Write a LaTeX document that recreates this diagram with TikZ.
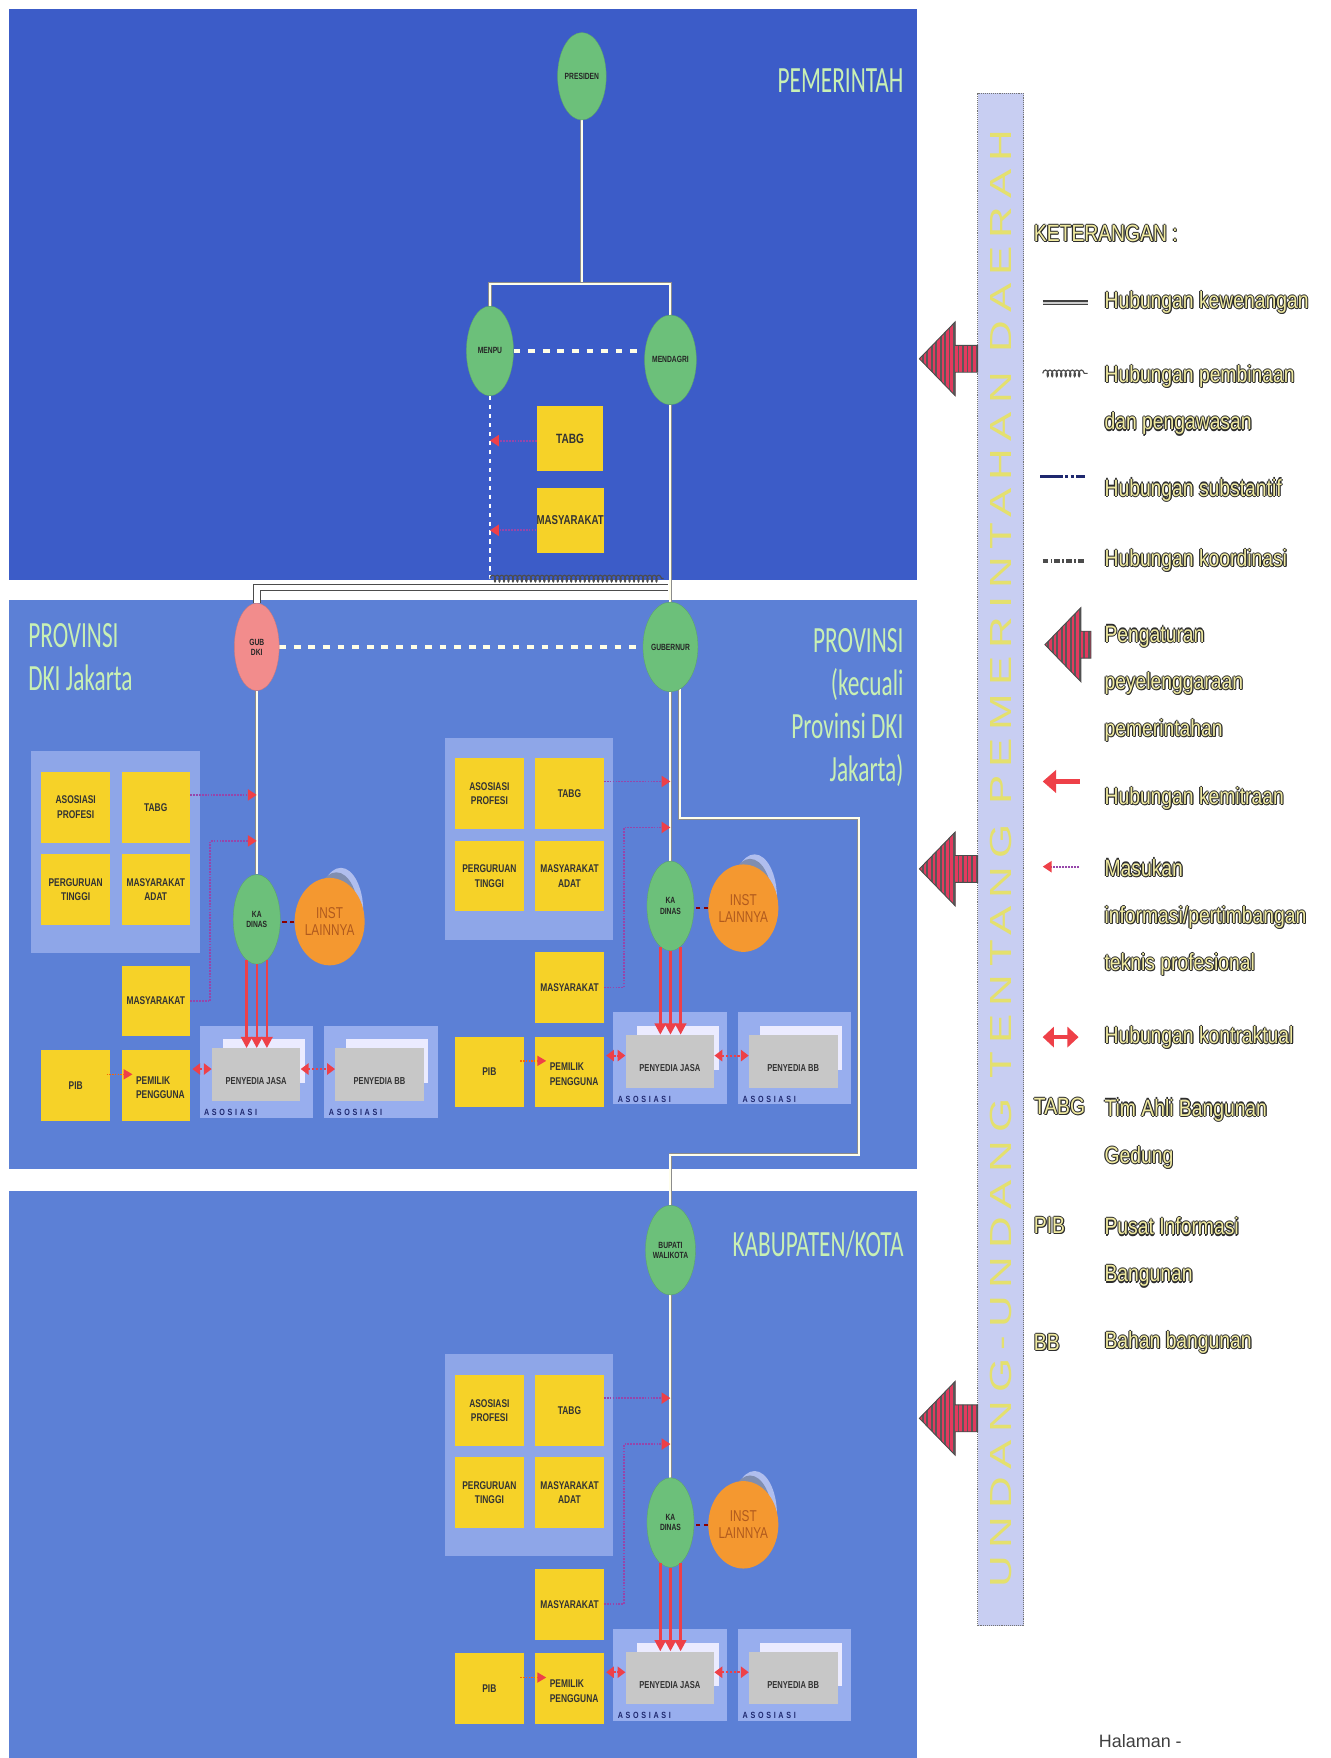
\documentclass[tikz,border=0pt]{standalone}
\usepackage{fontspec}
\usepackage{graphicx}
\setmainfont{Liberation Sans}
\newfontfamily\narrowfont{Liberation Sans}[FakeStretch=0.75]
\newfontfamily\legendfont{Liberation Sans}[FakeStretch=0.82]
\newfontfamily\titlefont{Carlito}[FakeStretch=0.63]
\newfontfamily\barfont{Liberation Sans}[LetterSpace=18]
\newfontfamily\spacedfont{Liberation Sans}[LetterSpace=30,FakeStretch=0.8]
\usetikzlibrary{arrows.meta,positioning,calc,decorations.pathmorphing,shapes.geometric}
\pgfdeclarelayer{panels}
\pgfdeclarelayer{lines}
\pgfsetlayers{panels,lines,main}

\definecolor{govblue}{RGB}{60,92,200}
\definecolor{regblue}{RGB}{92,128,214}
\definecolor{grpblue}{RGB}{142,166,232}
\definecolor{asoblue}{RGB}{152,174,238}
\definecolor{offgreen}{RGB}{108,192,122}
\definecolor{dkipink}{RGB}{242,140,140}
\definecolor{boxyellow}{RGB}{246,210,40}
\definecolor{instorange}{RGB}{244,152,48}
\definecolor{instgrey}{RGB}{128,142,176}
\definecolor{instlight}{RGB}{176,190,238}
\definecolor{titlegreen}{RGB}{200,240,180}
\definecolor{barlav}{RGB}{200,206,242}
\definecolor{baryellow}{RGB}{228,224,110}
\definecolor{arrred}{RGB}{238,64,72}
\definecolor{stripered}{RGB}{226,58,94}
\definecolor{masukviolet}{RGB}{150,70,170}
\definecolor{lgyellow}{RGB}{240,234,160}
\definecolor{lgdark}{RGB}{45,45,45}
\definecolor{asonavy}{RGB}{30,40,110}

% teks keterangan: kuning dengan tepi gelap
\newcommand{\embo}[1]{%
  \rlap{\kern-1pt\textcolor{lgdark}{#1}}\rlap{\kern1pt\textcolor{lgdark}{#1}}%
  \rlap{\raisebox{1pt}{\textcolor{lgdark}{#1}}}\rlap{\raisebox{-1pt}{\textcolor{lgdark}{#1}}}%
  \rlap{\kern0.8pt\raisebox{-0.8pt}{\textcolor{lgdark}{#1}}}%
  \textcolor{lgyellow}{#1}}

\tikzset{
  panelbox/.style={rectangle, inner sep=0pt, draw=none},
  titletxt/.style={font=\titlefont\fontsize{33}{38.5}\selectfont, text=titlegreen, inner sep=0pt},
  official/.style={ellipse, fill=offgreen, draw=offgreen!85!black, line width=0.3pt,
    minimum width=40pt, minimum height=80pt, inner sep=0pt, align=center,
    font=\narrowfont\bfseries\fontsize{8}{9}\selectfont, text=black!85},
  ybox/.style={rectangle, fill=boxyellow, minimum width=61pt, minimum height=63pt, inner sep=0pt,
    align=center, font=\narrowfont\bfseries\fontsize{10}{13}\selectfont, text=black!80},
  boxlabel/.style={inner sep=0pt, align=left, font=\narrowfont\bfseries\fontsize{10}{13}\selectfont, text=black!80},
  grppanel/.style={rectangle, fill=grpblue, minimum width=150pt, minimum height=180pt, inner sep=0pt},
  asopanel/.style={rectangle, fill=asoblue, minimum width=101pt, minimum height=82pt, inner sep=0pt},
  whitecard/.style={rectangle, fill=white!92!blue, minimum width=73pt, minimum height=39pt, inner sep=0pt},
  greycard/.style={rectangle, fill=black!22, minimum width=79pt, minimum height=47pt, inner sep=0pt},
  cardlbl/.style={inner sep=0pt, font=\narrowfont\bfseries\fontsize{9}{10}\selectfont, text=black!80},
  asolbl/.style={inner sep=0pt, font=\spacedfont\bfseries\fontsize{8}{9}\selectfont, text=asonavy},
  inst/.style={ellipse, fill=instorange, minimum width=40pt, minimum height=78pt, inner sep=0pt,
    align=center, font=\narrowfont\fontsize{14}{15}\selectfont, text={rgb,255:red,176;green,90;blue,30}},
  instshadow/.style={ellipse, minimum width=40pt, minimum height=78pt, inner sep=0pt},
  % jenis hubungan
  kew/.style={draw=black!45, line width=0.5pt, double=white!92!yellow, double distance=1.8pt},
  kewdark/.style={draw=black!70, line width=0.9pt, double=white, double distance=5pt},
  pembinaan/.style={draw=black!70, line width=1pt, decorate,
    decoration={coil, amplitude=3pt, segment length=4pt}},
  pembdot/.style={draw=white, line width=2.2pt, dash pattern=on 4pt off 4pt},
  koord/.style={draw=white!90!yellow, line width=3pt, dash pattern=on 6pt off 7pt},
  masukan/.style={draw=masukviolet, line width=1.6pt, densely dotted,
    -{Triangle[length=8pt,width=10pt,color=arrred]}},
  kemitraan/.style={draw=arrred, line width=2.2pt, -{Triangle[length=10pt,width=10pt]}},
  kontrak/.style={draw=arrred, line width=1.8pt, dash pattern=on 2pt off 1.5pt,
    {Triangle[length=7pt,width=10pt]}-{Triangle[length=7pt,width=10pt]}},
  instlink/.style={draw=red!55!black, line width=1.6pt, dash pattern=on 4pt off 3pt},
  pibarrow/.style={draw=orange!80!red, line width=1.4pt, densely dotted,
    -{Triangle[length=8pt,width=9pt,color=arrred]}},
  lgtext/.style={font=\legendfont\fontsize{21}{42}\selectfont, inner sep=0pt, align=left},
  uubar/.style={rectangle, fill=barlav, draw=black!55, densely dotted, line width=0.7pt,
    minimum width=41pt, minimum height=1367pt, inner sep=0pt},
  pics/regarrow/.style={code={
    \path[fill=stripered] (0,0) -- (32,-33) -- (32,-12) -- (#1,-12) -- (#1,12) -- (32,12) -- (32,33) -- cycle;
    \begin{scope}
      \clip (0,0) -- (32,-33) -- (32,-12) -- (#1,-12) -- (#1,12) -- (32,12) -- (32,33) -- cycle;
      \foreach \xs in {3,7,...,63} {\draw[black!65, line width=1.5pt] (\xs,-35) -- (\xs,35);}
    \end{scope}
    \draw[black!70, line width=0.8pt] (0,0) -- (32,-33) -- (32,-12) -- (#1,-12) -- (#1,12) -- (32,12) -- (32,33) -- cycle;
  }}
}

% satu unit dinas, ditulis dalam koordinat unit provinsi lalu digeser
\newcommand{\localgov}[3]{%
  \begin{scope}[shift={(#2,#3)}]
    \begin{pgfonlayer}{panels}
      \node[grppanel] (#1-grp) at (472,748) {};
      \node[asopanel] (#1-pjp) at (597.5,944) {};
      \node[asopanel, right=10pt of #1-pjp] (#1-bbp) {};
    \end{pgfonlayer}
    % pemangku kepentingan
    \node[ybox] (#1-aso) at (436.5,708) {ASOSIASI\\PROFESI};
    \node[ybox, right=10pt of #1-aso] (#1-tabg) {TABG};
    \node[ybox, below=10pt of #1-aso] (#1-pt) {PERGURUAN\\TINGGI};
    \node[ybox, right=10pt of #1-pt] (#1-adat) {MASYARAKAT\\ADAT};
    \node[ybox, below=36pt of #1-adat] (#1-masy) {MASYARAKAT};
    \node[ybox, below=12pt of #1-masy] (#1-pemilik) {};
    \node[ybox, left=10pt of #1-pemilik] (#1-pib) {PIB};
    \node[boxlabel, anchor=west] (#1-pemlbl) at ([xshift=13pt,yshift=-2pt]#1-pemilik.west) {PEMILIK\\PENGGUNA};
    % kepala dinas dan instansi lain
    \node[official, minimum width=42pt] (#1-kadinas) at (598,808) {KA\\DINAS};
    \node[instshadow, fill=instlight] (#1-instb) at (673,801) {};
    \node[instshadow, fill=instgrey] (#1-insta) at (669,805) {};
    \node[inst] (#1-inst) at (663,810) {INST\\LAINNYA};
    % penyedia jasa dan bahan bangunan
    \node[whitecard] (#1-pjw) at (604.5,934.5) {};
    \node[greycard] (#1-pj) at (597.5,946.5) {};
    \node[cardlbl] (#1-pjlbl) at ([yshift=-6pt]#1-pj) {PENYEDIA JASA};
    \node[whitecard] (#1-bbw) at ([xshift=110pt]#1-pjw) {};
    \node[greycard] (#1-bb) at ([xshift=110pt]#1-pj) {};
    \node[cardlbl] (#1-bblbl) at ([yshift=-6pt]#1-bb) {PENYEDIA BB};
    \node[asolbl, anchor=south west] (#1-pjaso) at ([xshift=4pt,yshift=2pt]#1-pjp.south west) {ASOSIASI};
    \node[asolbl, anchor=south west] (#1-bbaso) at ([xshift=4pt,yshift=2pt]#1-bbp.south west) {ASOSIASI};
    % hubungan di dalam unit
    \coordinate (#1-in2) at (598,738);
    \draw[masukan] ([yshift=11pt]#1-tabg.east) -- ([yshift=11pt]#1-tabg.east -| #1-kadinas.north);
    \draw[masukan] (#1-masy.east) -- ++(18,0) |- (#1-in2);
    \draw[instlink] (#1-inst.west) -- (#1-inst.west -| #1-kadinas.east);
    \foreach \ang in {256,270,284} {\draw[kemitraan] (#1-kadinas.\ang) -- (#1-kadinas.\ang |- #1-pj.north);}
    \draw[pibarrow] ([xshift=-3pt,yshift=10pt]#1-pib.east) -- ([xshift=10pt,yshift=10pt]#1-pemilik.west);
    \draw[kontrak] ([xshift=2pt,yshift=5pt]#1-pemilik.east |- #1-pj.west) -- ([yshift=5pt]#1-pj.west);
    \draw[kontrak] ([yshift=5pt]#1-pj.east) -- ([yshift=5pt]#1-bb.west);
  \end{scope}}

\begin{document}
\begin{tikzpicture}[x=1pt, y=-1pt]
  \useasboundingbox (0,0) rectangle (1187,1568);
  \begin{pgfonlayer}{panels}
    \fill[white] (0,0) rectangle (1187,1568);
    \node[panelbox, fill=govblue, minimum width=810pt, minimum height=509pt] (pusat) at (413,262.5) {};
    \node[panelbox, fill=regblue, minimum width=810pt, minimum height=508pt] (provinsi) at (413,789) {};
    \node[panelbox, fill=regblue, minimum width=810pt, minimum height=506pt] (kabupaten) at (413,1315) {};
    \node[uubar] (uubar) at (892.5,766.5) {};
  \end{pgfonlayer}

  % --- judul panel ---
  \node[titletxt, anchor=east] (pemerintah) at (806,72) {PEMERINTAH};
  \node[titletxt, anchor=north west, align=left] (dkititle) at (25,556) {PROVINSI\\DKI Jakarta};
  \node[titletxt, anchor=north east, align=right] (provtitle) at (806,560) {PROVINSI\\(kecuali\\Provinsi DKI\\Jakarta)};
  \node[titletxt, anchor=east] (kabtitle) at (806,1110) {KABUPATEN/KOTA};

  % --- pemerintah pusat ---
  \node[official, minimum height=78pt] (presiden) at (519,68) {PRESIDEN};
  \node[official, minimum width=42pt] (menpu) at (437,313) {MENPU};
  \node[official] (mendagri) at (598,321) {MENDAGRI};
  \node[ybox, minimum width=59pt, minimum height=58pt, font=\narrowfont\bfseries\fontsize{12}{13}\selectfont] (tabgpusat) at (508.5,391) {TABG};
  \node[ybox, minimum width=59pt, minimum height=58pt, font=\narrowfont\bfseries\fontsize{11.5}{13}\selectfont] (masypusat) at (508.5,464) {MASYARAKAT};

  % --- provinsi dan kabupaten/kota ---
  \node[official, fill=dkipink, draw=dkipink!85!black, minimum height=78pt] (gubdki) at (229,577) {GUB\\DKI};
  \node[official] (gubernur) at (598,577) {GUBERNUR};
  \node[official] (bupati) at (598,1115) {BUPATI\\WALIKOTA};
  \localgov{dki}{-369}{12}
  \localgov{prov}{0}{0}
  \localgov{kab}{0}{550}

  % --- garis hubungan ---
  \coordinate (topbar) at (519,253);
  \coordinate (pbend) at (437,516);
  \coordinate (gapjoin) at (596,524);
  \coordinate (loopA) at (766,730);
  \coordinate (loopB) at (766,1030);
  \begin{pgfonlayer}{lines}
    \draw[kew] (presiden.south) -- (topbar);
    \draw[kew] (menpu.north) |- (topbar) -| (mendagri.north);
    \draw[kew] (mendagri.south) -- (gubernur.north);
    \draw[kewdark] (gubdki.north) |- (gapjoin);
    \draw[kew] (gubdki.south) -- (dki-kadinas.north);
    \draw[kew] (gubernur.south) -- (prov-kadinas.north);
    \draw[kew] (gubernur.282) |- (loopA) -- (loopB) -| (bupati.north);
    \draw[kew] (bupati.south) -- (kab-kadinas.north);
    \draw[koord] (menpu.east) -- (menpu.east -| mendagri.west);
    \draw[koord] (gubdki.east) -- (gubernur.west);
    \draw[pembdot] (menpu.south) -- (pbend);
    \draw[pembinaan] (pbend) -- ([xshift=-6pt]pbend -| mendagri);
  \end{pgfonlayer}
  \draw[masukan] ([yshift=-2pt]tabgpusat.west) -- ([yshift=-2pt]tabgpusat.west -| menpu.south);
  \draw[masukan] ([yshift=-9pt]masypusat.west) -- ([yshift=-9pt]masypusat.west -| menpu.south);

  % --- undang-undang ---
  \node[rotate=90, text=baryellow, inner sep=0pt] (uutext) at (893,766) {\resizebox{1300pt}{19pt}{\barfont UNDANG-UNDANG TENTANG PEMERINTAHAN DAERAH}};
  \pic (aturpusat) at (820,320) {regarrow=52};
  \pic (aturprov) at (820,775) {regarrow=52};
  \pic (aturkab) at (820,1265) {regarrow=52};

  % --- keterangan ---
  \node[lgtext, anchor=west] (keterangan) at (922,208) {\embo{KETERANGAN :}};
  \draw[draw=black!75, line width=1.2pt, double=white!80!black, double distance=2pt] (930,270) -- (970,270);
  \node[lgtext, anchor=west] (lgkew) at (985,270) {\embo{Hubungan kewenangan}};
  \draw[pembinaan] (930,333) -- (970,333);
  \node[lgtext, anchor=north west] (lgpemb) at (985,325) {\embo{Hubungan pembinaan}\\\embo{dan pengawasan}};
  \draw[draw=asonavy, line width=2pt, dash pattern=on 20pt off 2pt on 3pt off 2pt on 3pt off 2pt] (928,425) -- (968,425);
  \node[lgtext, anchor=west] (lgsubst) at (985,437) {\embo{Hubungan substantif}};
  \draw[draw=black!70, line width=3.5pt, dash pattern=on 5pt off 2pt on 1.5pt off 2pt] (930,500) -- (968,500);
  \node[lgtext, anchor=west] (lgkoord) at (985,500) {\embo{Hubungan koordinasi}};
  \pic (lgatur) at (932,575) {regarrow=41};
  \node[lgtext, anchor=north west] (lgatur) at (985,557) {\embo{Pengaturan}\\\embo{peyelenggaraan}\\\embo{pemerintahan}};
  \draw[kemitraan, line width=5pt, -{Triangle[length=12pt,width=20pt]}] (963,697) -- (930,697);
  \node[lgtext, anchor=west] (lgmitra) at (985,712) {\embo{Hubungan kemitraan}};
  \draw[masukan] (962,773) -- (930,773);
  \node[lgtext, anchor=north west] (lgmasuk) at (985,765) {\embo{Masukan}\\\embo{informasi/pertimbangan}\\\embo{teknis profesional}};
  \draw[kontrak, solid, line width=3pt, {Triangle[length=10pt,width=18pt]}-{Triangle[length=10pt,width=18pt]}] (930,925) -- (962,925);
  \node[lgtext, anchor=west] (lgkontrak) at (985,925) {\embo{Hubungan kontraktual}};
  \node[lgtext, anchor=west] (abtabg) at (922,987) {\embo{TABG}};
  \node[lgtext, anchor=north west] (lgtabg) at (985,979) {\embo{Tim Ahli Bangunan}\\\embo{Gedung}};
  \node[lgtext, anchor=west] (abpib) at (922,1093) {\embo{PIB}};
  \node[lgtext, anchor=north west] (lgpib) at (985,1085) {\embo{Pusat Informasi}\\\embo{Bangunan}};
  \node[lgtext, anchor=west] (abbb) at (922,1197) {\embo{BB}};
  \node[lgtext, anchor=west] (lgbb) at (985,1197) {\embo{Bahan bangunan}};
  \node[anchor=west, inner sep=0pt, font=\fontsize{16}{18}\selectfont, text=black!75] (halaman) at (980,1553) {Halaman -};
\end{tikzpicture}
\end{document}
